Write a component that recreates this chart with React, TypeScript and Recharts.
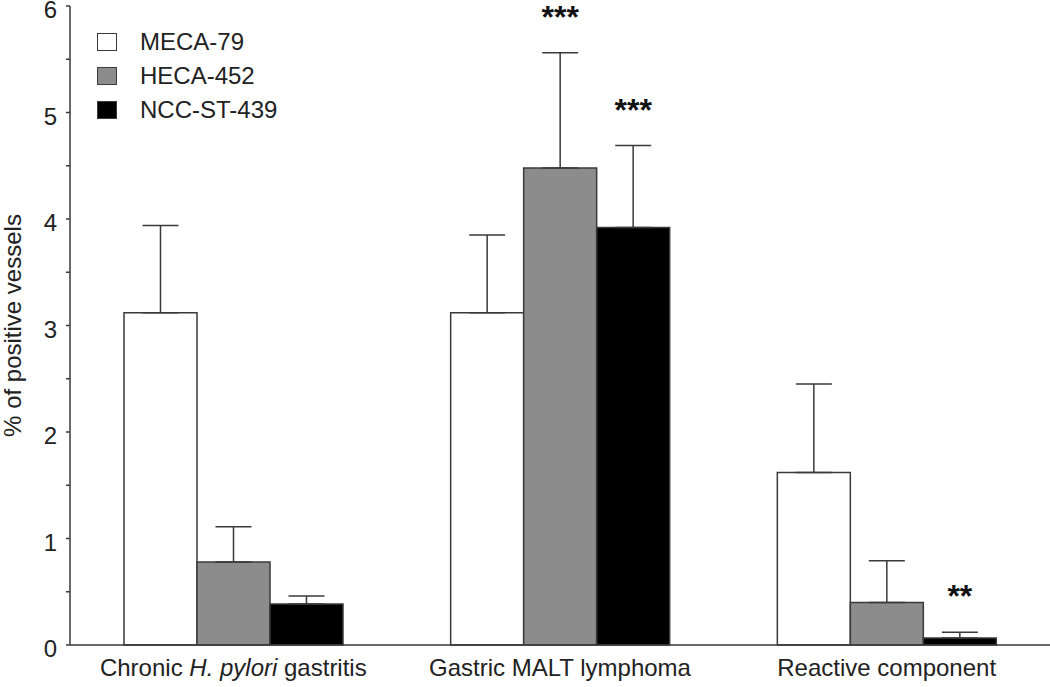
import * as React from 'react';
import {
  BarChart,
  Bar,
  XAxis,
  YAxis,
  ErrorBar,
  Legend,
  LabelList,
} from 'recharts';

// values (% of positive vessels, mean + upper SEM)
const categories = ['Chronic H. pylori gastritis', 'Gastric MALT lymphoma', 'Reactive component'];
const categoryItalic = ['H. pylori', '', ''];

const meca79 = [3.12, 3.12, 1.62];
const meca79Err = [0.82, 0.73, 0.83];
const heca452 = [0.78, 4.48, 0.4];
const heca452Err = [0.33, 1.08, 0.39];
const nccSt439 = [0.385, 3.92, 0.066];
const nccSt439Err = [0.075, 0.77, 0.054];

const heca452Stars = ['', '***', ''];
const nccSt439Stars = ['', '***', '**'];

const yTicks = [0, 0.5, 1, 1.5, 2, 2.5, 3, 3.5, 4, 4.5, 5, 5.5, 6];

const FONT = '"Liberation Sans", Arial, Helvetica, sans-serif';
const INK = '#3a3a3a';

const data = categories.map((name, i) => ({
  name,
  meca: meca79[i],
  mecaErr: [0, meca79Err[i]],
  heca: heca452[i],
  hecaErr: [0, heca452Err[i]],
  ncc: nccSt439[i],
  nccErr: [0, nccSt439Err[i]],
}));

const series = [
  { key: 'meca', name: 'MECA-79', fill: '#ffffff' },
  { key: 'heca', name: 'HECA-452', fill: '#8c8c8c' },
  { key: 'ncc', name: 'NCC-ST-439', fill: '#000000' },
];

function CategoryTick(props: any) {
  const { x, y, payload, index } = props;
  const label: string = payload.value;
  const ital = categoryItalic[index];
  let parts: Array<{ t: string; i: boolean }> = [{ t: label, i: false }];
  if (ital && label.includes(ital)) {
    const at = label.indexOf(ital);
    parts = [
      { t: label.slice(0, at), i: false },
      { t: ital, i: true },
      { t: label.slice(at + ital.length), i: false },
    ];
  }
  return (
    <text
      x={x}
      y={y + 31}
      textAnchor="middle"
      fontFamily={FONT}
      fontSize={24}
      fill="#222"
      style={{ whiteSpace: 'pre' }}
    >
      {parts.map((p, k) => (
        <tspan key={k} fontStyle={p.i ? 'italic' : 'normal'}>
          {p.t}
        </tspan>
      ))}
    </text>
  );
}

function ValueTick(props: any) {
  const { x, y, payload } = props;
  const v = payload.value;
  if (!Number.isInteger(v)) return null;
  return (
    <text x={x} y={y + 12} textAnchor="end" fontFamily={FONT} fontSize={24} fill="#222">
      {v}
    </text>
  );
}

function makeStars(stars: string[], errs: number[]) {
  return (props: any) => {
    const { x, y, width, height, value, index } = props;
    const s = stars[index];
    if (!s) return null;
    const perUnit = height / value;
    const errTop = y - errs[index] * perUnit;
    return (
      <text
        x={x + width / 2}
        y={errTop - 25}
        textAnchor="middle"
        fontFamily={FONT}
        fontSize={32}
        fontWeight="bold"
        fill="#111"
      >
        {s}
      </text>
    );
  };
}

function LegendBox() {
  return (
    <div style={{ fontFamily: FONT, fontSize: 24, color: '#222' }}>
      {series.map((s) => (
        <div key={s.key} style={{ display: 'flex', alignItems: 'center', height: 34 }}>
          <span
            style={{
              display: 'inline-block',
              width: 18,
              height: 16,
              background: s.fill,
              border: `1.5px solid ${INK}`,
              marginRight: 23,
            }}
          />
          <span>{s.name}</span>
        </div>
      ))}
    </div>
  );
}

export default function App() {
  return (
    <div style={{ position: 'absolute', left: 0, top: 0, width: 1050, height: 687, background: '#fff' }}>
      <BarChart
        width={1050}
        height={687}
        data={data}
        margin={{ top: 6, right: 0, left: 0, bottom: 0 }}
        barGap={0}
        barSize={73}
      >
        <XAxis
          dataKey="name"
          height={42}
          tickLine={false}
          tickSize={0}
          tickMargin={0}
          axisLine={{ stroke: INK, strokeWidth: 1.5 }}
          tick={<CategoryTick />}
          interval={0}
        />
        <YAxis
          width={70}
          domain={[0, 6]}
          ticks={yTicks}
          interval={0}
          tickSize={4}
          tickMargin={9}
          tickLine={{ stroke: INK, strokeWidth: 1.5 }}
          axisLine={{ stroke: INK, strokeWidth: 1.5 }}
          tick={<ValueTick />}
          label={{
            value: '% of positive vessels',
            angle: -90,
            position: 'insideLeft',
            offset: 12,
            style: { textAnchor: 'middle', fontFamily: FONT, fontSize: 24, fill: '#222' },
          }}
        />
        <Legend
          layout="horizontal"
          verticalAlign="middle"
          align="center"
          content={<LegendBox />}
          wrapperStyle={{ left: 97, top: 25, width: 'auto' }}
        />
        <Bar dataKey="meca" name="MECA-79" fill="#ffffff" stroke={INK} strokeWidth={1.5} isAnimationActive={false}>
          <ErrorBar dataKey="mecaErr" width={18} stroke={INK} strokeWidth={1.5} direction="y" />
        </Bar>
        <Bar dataKey="heca" name="HECA-452" fill="#8c8c8c" stroke={INK} strokeWidth={1.5} isAnimationActive={false}>
          <ErrorBar dataKey="hecaErr" width={18} stroke={INK} strokeWidth={1.5} direction="y" />
          <LabelList dataKey="heca" content={makeStars(heca452Stars, heca452Err)} />
        </Bar>
        <Bar dataKey="ncc" name="NCC-ST-439" fill="#000000" stroke={INK} strokeWidth={1.5} isAnimationActive={false}>
          <ErrorBar dataKey="nccErr" width={18} stroke={INK} strokeWidth={1.5} direction="y" />
          <LabelList dataKey="ncc" content={makeStars(nccSt439Stars, nccSt439Err)} />
        </Bar>
      </BarChart>
    </div>
  );
}
